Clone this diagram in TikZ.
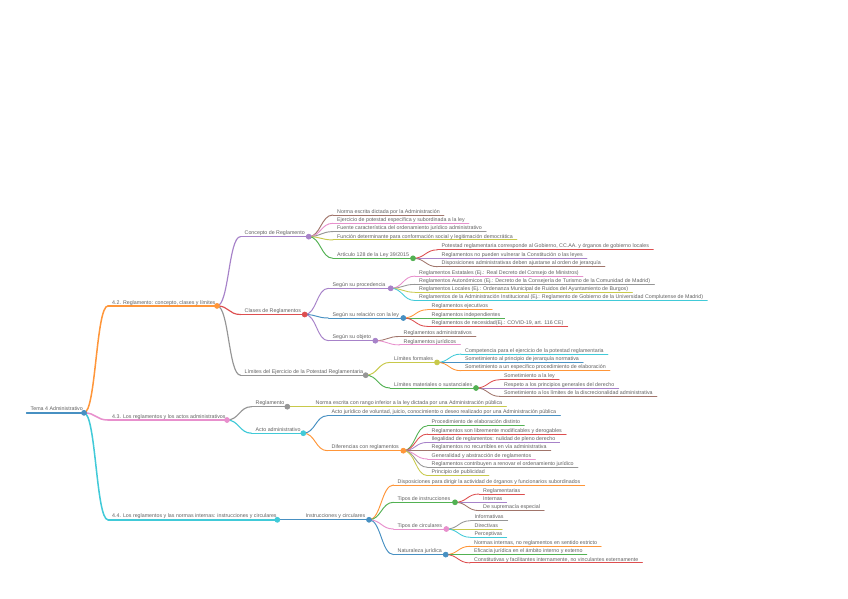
\documentclass[tikz,border=0pt]{standalone}
\usepackage{fontspec}
\setmainfont{Liberation Sans}
\definecolor{cblueb}{HTML}{1F77B4}
\definecolor{corangeb}{HTML}{FF7F0E}
\definecolor{cgreenb}{HTML}{2CA02C}
\definecolor{credb}{HTML}{D62728}
\definecolor{cpurpleb}{HTML}{9467BD}
\definecolor{cbrownb}{HTML}{8C564B}
\definecolor{cpinkb}{HTML}{E377C2}
\definecolor{cgrayb}{HTML}{7F7F7F}
\definecolor{coliveb}{HTML}{BCBD22}
\definecolor{ccyanb}{HTML}{17BECF}
\colorlet{cblue}{cblueb!82!white}
\colorlet{corange}{corangeb!82!white}
\colorlet{cgreen}{cgreenb!82!white}
\colorlet{cred}{credb!82!white}
\colorlet{cpurple}{cpurpleb!82!white}
\colorlet{cbrown}{cbrownb!82!white}
\colorlet{cpink}{cpinkb!82!white}
\colorlet{cgray}{cgrayb!82!white}
\colorlet{colive}{coliveb!82!white}
\colorlet{ccyan}{ccyanb!82!white}
\pgfdeclarelayer{paper}
\pgfdeclarelayer{background}
\pgfsetlayers{paper,background,main}
\tikzset{
  mmtxt/.style={font=\fontsize{5.3}{6}\selectfont, text=black!62, inner xsep=4pt, inner ysep=0pt},
  mmline/.style={line cap=round, line width=0.9pt},
  d0/.style={line width=1.3pt},
  d1/.style={line width=1.5pt},
  d2/.style={line width=1.15pt},
  d3/.style={line width=0.95pt},
  d4/.style={line width=0.85pt},
  mmdotst/.style={fill=white, line width=0.65pt}
}
% root: name, style, left, y, right, text
\newcommand\mmroot[6]{%
  \coordinate (#1L) at (#3,#4);
  \coordinate (#1R) at (#5,#4);
  \node[mmtxt, anchor=base west] (#1) at (#3,#4-1.9) {#6};
  \begin{pgfonlayer}{background}
    \draw[mmline,#2] (#1L) -- (#1R);
  \end{pgfonlayer}
}
% parent node: name, parent, style, left, y, right, text
\newcommand\mmpar[7]{%
  \coordinate (#1L) at (#4,#5);
  \coordinate (#1R) at (#6,#5);
  \node[mmtxt, anchor=base west] (#1) at (#4,#5-1.9) {#7};
  \begin{pgfonlayer}{background}
    \draw[mmline,#3] (#2R) .. controls +(12,0) and +(-12,0) .. (#1L);
    \draw[mmline,#3] (#1L) -- (#1R);
  \end{pgfonlayer}
}
% leaf node: name, parent, style, left, y, text
\newcommand\mmleaf[6]{%
  \coordinate (#1L) at (#4,#5);
  \node[mmtxt, anchor=base west] (#1) at (#4,#5-1.9) {#6};
  \begin{pgfonlayer}{background}
    \draw[mmline,#3] (#2R) .. controls +(12,0) and +(-12,0) .. (#1L);
    \draw[mmline,#3] (#1L) -- (#1L -| #1.east);
  \end{pgfonlayer}
}
\newcommand\mmdot[2]{\draw[mmdotst,#2] (#1R) circle (2.5pt);}

\begin{document}
\begin{tikzpicture}[x=1pt,y=-1pt]
\useasboundingbox (0,0) rectangle (848,599);
\begin{pgfonlayer}{paper}
\fill[white] (0,0) rectangle (848,599);
\end{pgfonlayer}

\mmroot{r}{cblue,d0}{26.5}{412.85}{84}{Tema 4 Administrativo}

\mmpar{a}{r}{corange,d1}{108}{305.9}{217}{4.2. Reglamento: concepto, clases y límites}
\mmpar{b}{r}{cpink,d1}{108}{420}{227}{4.3. Los reglamentos y los actos administrativos}
\mmpar{c}{r}{ccyan,d1}{108}{519.8}{277.3}{4.4. Los reglamentos y las normas internas: instrucciones y circulares}

% 4.2
\mmpar{aa}{a}{cpurple,d2}{240.5}{236.65}{308.7}{Concepto de Reglamento}
\mmpar{ab}{a}{cred,d2}{240.5}{314.5}{304.7}{Clases de Reglamentos}
\mmpar{ac}{a}{cgray,d2}{240.5}{375.2}{365.7}{Límites del Ejercicio de la Potestad Reglamentaria}

\mmleaf{aaa}{aa}{cbrown,d3}{333}{215}{Norma escrita dictada por la Administración}
\mmleaf{aab}{aa}{cpink,d3}{333}{223.3}{Ejercicio de potestad específica y subordinada a la ley}
\mmleaf{aac}{aa}{cgray,d3}{333}{231.6}{Fuente característica del ordenamiento jurídico administrativo}
\mmleaf{aad}{aa}{colive,d3}{333}{239.9}{Función determinante para conformación social y legitimación democrática}
\mmpar{aae}{aa}{cgreen,d3}{333}{258.3}{413}{Artículo 128 de la Ley 39/2015}
\mmleaf{aaea}{aae}{cred,d4}{437.5}{249.8}{Potestad reglamentaria corresponde al Gobierno, CC.AA. y órganos de gobierno locales}
\mmleaf{aaeb}{aae}{cpurple,d4}{437.5}{258.3}{Reglamentos no pueden vulnerar la Constitución o las leyes}
\mmleaf{aaec}{aae}{cbrown,d4}{437.5}{266.7}{Disposiciones administrativas deben ajustarse al orden de jerarquía}

\mmpar{aba}{ab}{cpurple,d3}{328.5}{288.3}{390.7}{Según su procedencia}
\mmleaf{abaa}{aba}{cpink,d4}{415}{276.1}{Reglamentos Estatales (Ej.: Real Decreto del Consejo de Ministros)}
\mmleaf{abab}{aba}{cgray,d4}{415}{284.4}{Reglamentos Autonómicos (Ej.: Decreto de la Consejería de Turismo de la Comunidad de Madrid)}
\mmleaf{abac}{aba}{colive,d4}{415}{292.3}{Reglamentos Locales (Ej.: Ordenanza Municipal de Ruidos del Ayuntamiento de Burgos)}
\mmleaf{abad}{aba}{ccyan,d4}{415}{300.5}{Reglamentos de la Administración Institucional (Ej.: Reglamento de Gobierno de la Universidad Complutense de Madrid)}
\mmpar{abb}{ab}{cblue,d3}{328.5}{318}{403.3}{Según su relación con la ley}
\mmleaf{abba}{abb}{corange,d4}{427.5}{309.7}{Reglamentos ejecutivos}
\mmleaf{abbb}{abb}{cgreen,d4}{427.5}{318}{Reglamentos independientes}
\mmleaf{abbc}{abb}{cred,d4}{427.5}{326.4}{Reglamentos de necesidad(Ej.: COVID-19, art. 116 CE)}
\mmpar{abc}{ab}{cpurple,d3}{328.5}{340.7}{375.3}{Según su objeto}
\mmleaf{abca}{abc}{cbrown,d4}{399.5}{336.5}{Reglamentos administrativos}
\mmleaf{abcb}{abc}{cpink,d4}{399.5}{344.9}{Reglamentos jurídicos}

\mmpar{aca}{ac}{colive,d3}{390}{362.4}{437}{Límites formales}
\mmleaf{acaa}{aca}{ccyan,d4}{461}{354.1}{Competencia para el ejercicio de la potestad reglamentaria}
\mmleaf{acab}{aca}{cblue,d4}{461}{362.4}{Sometimiento al principio de jerarquía normativa}
\mmleaf{acac}{aca}{corange,d4}{461}{370.7}{Sometimiento a un específico procedimiento de elaboración}
\mmpar{acb}{ac}{cgreen,d3}{390}{388}{476}{Límites materiales o sustanciales}
\mmleaf{acba}{acb}{cred,d4}{500}{379.7}{Sometimiento a la ley}
\mmleaf{acbb}{acb}{cpurple,d4}{500}{388}{Respeto a los principios generales del derecho}
\mmleaf{acbc}{acb}{cbrown,d4}{500}{396.4}{Sometimiento a los límites de la discrecionalidad administrativa}

% 4.3
\mmpar{ba}{b}{cgray,d2}{251.5}{406.7}{287.3}{Reglamento}
\mmleaf{baa}{ba}{colive,d3}{311.5}{406.7}{Norma escrita con rango inferior a la ley dictada por una Administración pública}
\mmpar{bb}{b}{ccyan,d2}{251.5}{433.2}{303.3}{Acto administrativo}
\mmleaf{bba}{bb}{cblue,d3}{327.5}{415.7}{Acto jurídico de voluntad, juicio, conocimiento o deseo realizado por una Administración pública}
\mmpar{bbb}{bb}{corange,d3}{327.5}{450.7}{403.3}{Diferencias con reglamentos}
\mmleaf{bbba}{bbb}{cgreen,d4}{427.5}{425.8}{Procedimiento de elaboración distinto}
\mmleaf{bbbb}{bbb}{cred,d4}{427.5}{434.1}{Reglamentos son libremente modificables y derogables}
\mmleaf{bbbc}{bbb}{cpurple,d4}{427.5}{442.4}{Ilegalidad de reglamentos: nulidad de pleno derecho}
\mmleaf{bbbd}{bbb}{cbrown,d4}{427.5}{450.7}{Reglamentos no recurribles en vía administrativa}
\mmleaf{bbbe}{bbb}{cpink,d4}{427.5}{459}{Generalidad y abstracción de reglamentos}
\mmleaf{bbbf}{bbb}{cgray,d4}{427.5}{467.3}{Reglamentos contribuyen a renovar el ordenamiento jurídico}
\mmleaf{bbbg}{bbb}{colive,d4}{427.5}{475.6}{Principio de publicidad}

% 4.4
\mmpar{ca}{c}{cblue,d2}{301.5}{519.8}{369}{Instrucciones y circulares}
\mmleaf{caa}{ca}{corange,d3}{393.5}{485}{Disposiciones para dirigir la actividad de órganos y funcionarios subordinados}
\mmpar{cab}{ca}{cgreen,d3}{393.5}{502.3}{455}{Tipos de instrucciones}
\mmleaf{caba}{cab}{cred,d4}{479}{494}{Reglamentarias}
\mmleaf{cabb}{cab}{cpurple,d4}{479}{502.3}{Internas}
\mmleaf{cabc}{cab}{cbrown,d4}{479}{510.6}{De supremacía especial}
\mmpar{cac}{ca}{cpink,d3}{393.5}{529}{446.3}{Tipos de circulares}
\mmleaf{caca}{cac}{cgray,d4}{470.5}{520.7}{Informativas}
\mmleaf{cacb}{cac}{colive,d4}{470.5}{529}{Directivas}
\mmleaf{cacc}{cac}{ccyan,d4}{470.5}{537.3}{Perceptivas}
\mmpar{cad}{ca}{cblue,d3}{393.5}{554.6}{445.7}{Naturaleza jurídica}
\mmleaf{cada}{cad}{corange,d4}{470}{546.3}{Normas internas, no reglamentos en sentido estricto}
\mmleaf{cadb}{cad}{cgreen,d4}{470}{554.6}{Eficacia jurídica en el ámbito interno y externo}
\mmleaf{cadc}{cad}{cred,d4}{470}{562.9}{Constitutivas y facilitantes internamente, no vinculantes externamente}

% circles
\mmdot{r}{cblue}
\mmdot{a}{corange}
\mmdot{b}{cpink}
\mmdot{c}{ccyan}
\mmdot{aa}{cpurple}
\mmdot{ab}{cred}
\mmdot{ac}{cgray}
\mmdot{aae}{cgreen}
\mmdot{aba}{cpurple}
\mmdot{abb}{cblue}
\mmdot{abc}{cpurple}
\mmdot{aca}{colive}
\mmdot{acb}{cgreen}
\mmdot{ba}{cgray}
\mmdot{bb}{ccyan}
\mmdot{bbb}{corange}
\mmdot{ca}{cblue}
\mmdot{cab}{cgreen}
\mmdot{cac}{cpink}
\mmdot{cad}{cblue}
\end{tikzpicture}
\end{document}
